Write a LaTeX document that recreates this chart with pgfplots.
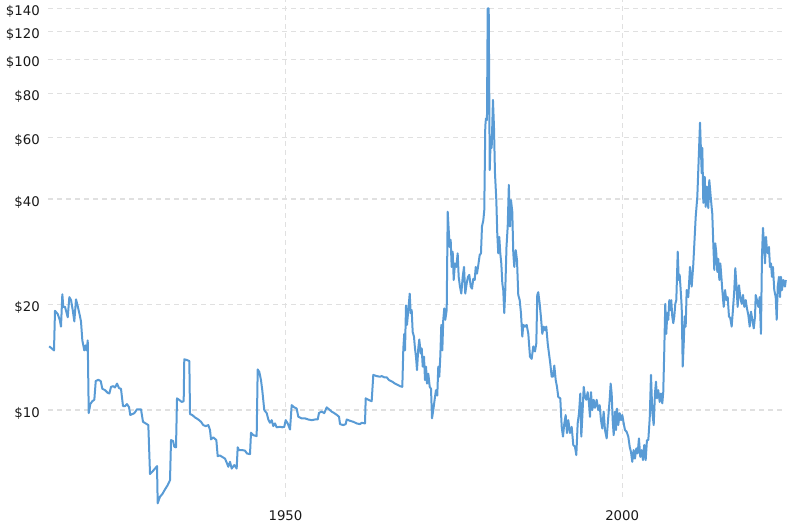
\documentclass[border=0pt]{standalone}
\usepackage{pgfplots}
\pgfplotsset{compat=1.18}
\usepackage{fontspec}
\setmainfont{DejaVu Sans}
\definecolor{lineblue}{RGB}{89,155,213}
\definecolor{gridgray}{RGB}{224,224,224}
\definecolor{labelc}{RGB}{25,25,25}
\begin{document}
\begin{tikzpicture}[x=1pt,y=1pt]
\useasboundingbox (-48pt,-33pt) rectangle (745pt,497pt);
\begin{axis}[
  at={(0,0)}, anchor=south west,
  scale only axis, width=738pt, height=497pt,
  ymode=log, log basis y=10,
  xmin=1914.73, xmax=2024.33,
  ymin=5.65, ymax=147.9,
  xtick={1950,2000}, xticklabels={1950,2000},
  ytick={10,20,40,60,80,100,120,140},
  yticklabels={\$10,\$20,\$40,\$60,\$80,\$100,\$120,\$140},
  minor xtick={}, minor ytick={},
  axis line style={draw=none},
  major tick length=0pt,
  tick style={draw=none},
  grid=major,
  major grid style={gridgray, line width=1.3pt, dash pattern=on 5pt off 4pt},
  ticklabel style={font=\fontsize{13.3}{16}\selectfont, text=labelc, inner sep=0pt},
  yticklabel style={anchor=base east, xshift=-8pt, yshift=-7pt},
  xticklabel style={anchor=north, yshift=-13pt},
  clip=false,
]
\addplot[lineblue, line width=2pt, line join=round, no markers] coordinates {
(1914.9,15.2) (1915.28,15.0) (1915.62,14.8) (1915.77,19.2) (1916.17,18.8) (1916.47,18.1) (1916.66,17.3) (1916.86,21.4) (1917.00,19.7) (1917.26,19.7) (1917.66,18.4) (1917.90,21.0) (1918.15,20.6) (1918.40,19.3) (1918.64,17.9) (1918.89,20.7) (1919.14,19.8) (1919.38,18.9) (1919.63,17.9) (1919.83,15.8) (1920.12,14.8) (1920.33,15.3) (1920.48,14.8) (1920.63,15.8) (1920.78,9.8) (1921.01,10.4) (1921.31,10.6) (1921.61,10.7) (1921.82,12.1) (1922.20,12.2) (1922.56,12.1) (1922.80,11.5) (1923.20,11.4) (1923.60,11.2) (1923.84,11.15) (1924.09,11.65) (1924.43,11.7) (1924.68,11.6) (1924.98,11.9) (1925.28,11.55) (1925.57,11.5) (1925.87,10.26) (1926.17,10.26) (1926.46,10.4) (1926.76,10.2) (1926.95,9.68) (1927.25,9.74) (1927.55,9.8) (1927.95,10.05)
(1928.54,10.05) (1928.84,9.26) (1929.24,9.16) (1929.63,9.06) (1929.88,6.57) (1930.22,6.67) (1930.62,6.81) (1930.92,6.92) (1931.02,5.42) (1931.36,5.66) (1931.71,5.76) (1932.11,5.94) (1932.51,6.11) (1932.85,6.31) (1933.00,8.21) (1933.30,8.16) (1933.49,7.86) (1933.74,7.83) (1933.89,10.8) (1934.19,10.7) (1934.59,10.55) (1934.88,10.6) (1934.97,13.96) (1935.33,13.9) (1935.72,13.8) (1935.82,9.74) (1936.16,9.68) (1936.56,9.53) (1937.05,9.4) (1937.45,9.26) (1937.79,9.06) (1938.15,9.0) (1938.54,9.06) (1938.79,8.77) (1938.94,8.25) (1939.28,8.36) (1939.73,8.21) (1939.93,7.39) (1940.27,7.42) (1940.62,7.35) (1941.02,7.27) (1941.27,7.08)
(1941.51,6.89) (1941.76,7.12) (1942.01,6.81) (1942.40,6.97) (1942.75,6.81) (1942.90,7.83) (1943.10,7.69) (1943.59,7.69) (1943.99,7.66) (1944.28,7.52) (1944.73,7.49) (1944.88,8.62) (1945.22,8.48) (1945.72,8.43) (1945.87,13.06) (1946.11,12.85) (1946.36,12.18) (1946.55,11.4) (1946.85,10.0) (1947.21,9.8) (1947.45,9.4) (1947.70,9.2) (1947.95,9.36) (1948.19,9.0) (1948.44,9.16) (1948.69,8.93) (1949.18,8.96) (1949.52,8.93) (1949.82,8.96) (1950.03,9.36) (1950.33,9.16) (1950.67,8.8) (1950.92,10.33) (1951.30,10.18) (1951.66,10.1) (1951.90,9.57) (1952.41,9.47) (1952.90,9.47) (1953.39,9.4) (1953.89,9.36) (1954.38,9.4) (1954.78,9.4) (1954.98,9.82)
(1955.38,9.9) (1955.76,9.8) (1956.12,10.18) (1956.46,10.05) (1956.86,9.9) (1957.25,9.8) (1957.65,9.68) (1957.95,9.57) (1958.10,9.12) (1958.58,9.06) (1958.94,9.12) (1959.09,9.4) (1959.58,9.32) (1960.07,9.26) (1960.57,9.16) (1961.06,9.12) (1961.32,9.2) (1961.81,9.16) (1961.91,10.8) (1962.30,10.7) (1962.80,10.6) (1963.04,12.6) (1963.54,12.5) (1964.03,12.45) (1964.29,12.5) (1964.67,12.4) (1965.03,12.4) (1965.37,12.18) (1965.86,12.05) (1966.26,11.9) (1966.66,11.8) (1967.01,11.7) (1967.35,11.65) (1967.50,15.0) (1967.64,16.5) (1967.75,14.8) (1967.90,19.9) (1968.04,17.5) (1968.24,19.3) (1968.45,21.5) (1968.59,18.9) (1968.74,19.3) (1968.89,16.7) (1969.08,16.2) (1969.23,15.0) (1969.38,14.2) (1969.53,13.0) (1969.72,15.0) (1969.87,15.9)
(1970.08,14.5) (1970.23,15.0) (1970.38,13.3) (1970.57,14.2) (1970.72,12.18) (1970.87,13.3) (1971.02,11.9) (1971.21,12.7) (1971.42,11.65) (1971.61,11.5) (1971.76,9.47) (1971.95,10.0) (1972.20,10.9) (1972.35,11.4) (1972.54,11.0) (1972.69,13.3) (1972.84,12.45) (1972.99,14.2) (1973.14,17.5) (1973.29,14.8) (1973.43,18.1) (1973.58,19.5) (1973.73,18.1) (1973.94,19.3) (1974.09,36.8) (1974.24,32.6) (1974.39,29.2) (1974.53,30.6) (1974.68,25.6) (1974.83,28.3) (1974.98,23.5) (1975.17,26.2) (1975.37,25.6) (1975.57,28.0) (1975.72,24.0) (1975.91,22.5) (1976.11,21.5) (1976.32,24.0) (1976.51,25.6) (1976.70,21.5) (1976.91,23.0) (1977.10,24.0) (1977.30,24.3) (1977.51,22.5) (1977.70,22.2) (1977.89,23.7) (1978.10,23.5) (1978.25,25.6) (1978.44,24.5) (1978.63,25.9) (1978.84,27.7) (1979.03,28.0) (1979.18,33.4) (1979.38,34.8) (1979.52,37.2) (1979.67,64.4) (1979.77,67.9) (1979.92,67.2) (1980.03,139.9) (1980.18,139.9) (1980.33,48.4) (1980.47,58.9) (1980.62,56.0) (1980.81,76.7) (1980.96,64.4) (1981.11,47.4) (1981.31,39.7) (1981.45,31.9) (1981.60,28.0) (1981.75,31.2) (1981.90,28.0) (1982.05,26.2) (1982.20,23.0) (1982.34,22.0) (1982.49,18.9) (1982.64,22.0) (1982.82,29.2) (1983.00,33.4) (1983.17,43.9) (1983.34,33.4) (1983.49,39.7) (1983.68,36.8) (1983.83,28.0) (1983.98,25.6) (1984.19,28.6) (1984.38,26.8) (1984.57,21.3) (1984.78,20.6) (1984.97,18.9) (1985.17,16.2) (1985.31,17.5) (1985.57,17.3) (1985.82,17.5) (1986.06,16.5) (1986.31,14.2) (1986.56,14.0) (1986.80,15.2) (1987.05,14.7) (1987.25,15.5) (1987.39,21.3) (1987.54,21.7) (1987.75,20.1) (1987.94,18.4) (1988.14,16.5) (1988.34,17.3) (1988.54,16.9) (1988.73,17.3) (1988.94,15.5) (1989.13,14.5) (1989.32,13.6) (1989.53,12.45) (1989.72,12.45) (1989.92,13.4) (1990.13,12.18) (1990.32,11.65) (1990.51,10.9) (1990.81,10.8) (1991.02,8.96) (1991.21,8.4) (1991.41,9.16) (1991.61,9.68) (1991.80,8.6) (1992.00,9.36) (1992.25,8.6) (1992.50,8.96) (1992.74,7.95) (1992.99,7.86) (1993.19,7.44) (1993.39,9.16) (1993.59,9.8) (1993.78,11.15) (1993.93,8.4) (1994.08,9.57) (1994.29,11.65) (1994.48,10.9) (1994.67,10.7) (1994.88,11.25) (1995.07,10.45) (1995.22,9.57) (1995.37,11.25) (1995.56,10.0) (1995.77,10.7) (1995.96,10.15)
(1996.21,10.7) (1996.45,10.0) (1996.66,10.33) (1996.85,9.36) (1997.05,8.86) (1997.25,9.9) (1997.45,8.77) (1997.70,8.3) (1997.94,9.57) (1998.14,10.7) (1998.29,11.9) (1998.44,11.15) (1998.59,9.36) (1998.74,8.48) (1998.93,9.9) (1999.08,8.77) (1999.23,10.1) (1999.42,9.06) (1999.63,9.8) (1999.83,9.36) (2000.02,9.68) (2000.23,9.16) (2000.42,8.77) (2000.67,8.67) (2000.91,8.4) (2001.12,7.86) (2001.31,7.6) (2001.50,7.12) (2001.71,7.69) (2001.90,7.27) (2002.10,7.78) (2002.30,7.52) (2002.49,8.3) (2002.69,7.35) (2002.90,7.69) (2003.09,7.2) (2003.28,7.95) (2003.49,7.2) (2003.68,8.21) (2003.88,8.21) (2004.09,9.47) (2004.28,12.6) (2004.47,9.9) (2004.68,9.06) (2004.87,11.15) (2005.02,12.05) (2005.17,10.8) (2005.36,11.4) (2005.57,10.55) (2005.76,11.15) (2005.96,10.45) (2006.10,11.25) (2006.25,14.7) (2006.40,20.1) (2006.55,16.5) (2006.70,18.9) (2006.85,18.1) (2007.00,20.6) (2007.14,19.3) (2007.29,20.6) (2007.44,18.5) (2007.59,17.7) (2007.74,18.5) (2007.89,20.1) (2008.04,20.6) (2008.25,28.3) (2008.40,23.5) (2008.54,24.3) (2008.69,22.0) (2008.84,19.7) (2008.99,13.3) (2009.14,15.5) (2009.28,18.5) (2009.43,17.3) (2009.58,22.0) (2009.82,21.0) (2010.07,25.6) (2010.32,22.5) (2010.56,26.0) (2010.92,35.6) (2011.16,40.6) (2011.56,66.1) (2011.81,47.4) (2011.90,56.0) (2012.05,39.0) (2012.26,46.3) (2012.40,38.0) (2012.60,43.4) (2012.79,37.7) (2012.94,45.3) (2013.15,40.6) (2013.30,37.7) (2013.38,36.4) (2013.53,29.9) (2013.68,25.1) (2013.83,29.9) (2013.98,28.0) (2014.13,24.8) (2014.28,27.0) (2014.43,23.5) (2014.58,26.2) (2014.73,24.0) (2014.87,22.0) (2015.08,19.7) (2015.28,22.0) (2015.46,20.6) (2015.67,21.0) (2015.86,18.5) (2016.05,18.3) (2016.26,17.3) (2016.45,19.3) (2016.65,22.0) (2016.80,25.4) (2016.95,23.0) (2017.15,19.7) (2017.35,22.7) (2017.54,21.0) (2017.75,20.1) (2017.94,21.3) (2018.14,19.7) (2018.35,20.6) (2018.53,19.5) (2018.73,18.7) (2018.94,17.3) (2019.13,19.1) (2019.33,18.1) (2019.54,17.1) (2019.73,18.5) (2019.83,21.3) (2020.02,20.6) (2020.22,19.7) (2020.42,21.0) (2020.61,16.5) (2020.76,27.4) (2020.91,33.1) (2021.06,29.9) (2021.21,26.2) (2021.36,31.2) (2021.50,28.6) (2021.65,28.0) (2021.80,29.2) (2021.95,25.6) (2022.10,26.2) (2022.25,24.0) (2022.39,25.6) (2022.59,22.0) (2022.80,21.0) (2022.95,18.1) (2023.10,22.5) (2023.29,24.0) (2023.44,21.0) (2023.58,24.0) (2023.73,22.0) (2023.93,23.5) (2024.18,22.5) (2024.30,23.5)
};
\end{axis}
\end{tikzpicture}
\end{document}
